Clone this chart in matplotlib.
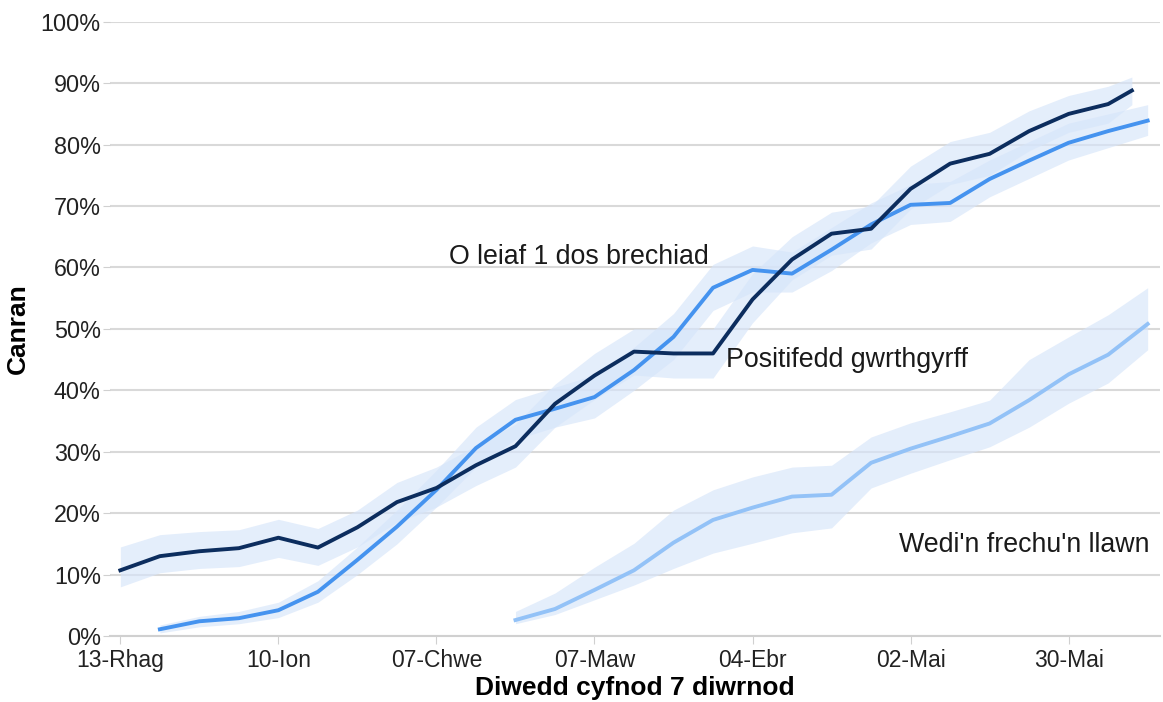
import numpy as np
import matplotlib.pyplot as plt
from matplotlib.ticker import PercentFormatter

plt.rcParams['font.family'] = ['Liberation Sans', 'DejaVu Sans']

# weeks since 13-Rhag (end of 7 day period)
tick_weeks = [0, 4, 8, 12, 16, 20, 24]
tick_labels = ['13-Rhag', '10-Ion', '07-Chwe', '07-Maw', '04-Ebr', '02-Mai', '30-Mai']

# antibody positivity (Positifedd gwrthgyrff)
ab_x = [0, 1, 2, 3, 4, 5, 6, 7, 8, 9, 10, 11, 12, 13, 14, 15, 16, 17, 18, 19,
        20, 21, 22, 23, 24, 25, 25.6]
ab_y = [10.7, 13.0, 13.8, 14.3, 16.0, 14.4, 17.7, 21.8, 24.1, 27.8, 30.9, 37.8,
        42.4, 46.3, 46.0, 46.0, 54.8, 61.3, 65.5, 66.3, 72.8, 76.9, 78.5, 82.2,
        85.0, 86.6, 88.8]
ab_lo = [8.0, 10.3, 11.0, 11.3, 12.8, 11.5, 14.5, 18.5, 21.0, 24.5, 27.5, 34.0,
         38.5, 42.5, 42.0, 42.0, 51.0, 58.0, 62.0, 63.0, 69.5, 73.5, 75.0, 79.0,
         82.0, 83.5, 86.5]
ab_hi = [14.5, 16.5, 17.0, 17.3, 19.0, 17.5, 20.5, 25.0, 27.5, 31.0, 34.5, 41.0,
         46.0, 50.0, 50.0, 50.0, 59.0, 65.0, 69.0, 70.0, 76.5, 80.5, 82.0, 85.5,
         88.0, 89.5, 91.0]

# at least one vaccine dose (O leiaf 1 dos brechiad)
dose_x = list(range(1, 27))
dose_y = [1.1, 2.4, 2.9, 4.2, 7.2, 12.4, 17.8, 23.8, 30.6, 35.2, 37.0, 38.9,
          43.3, 48.7, 56.7, 59.6, 59.0, 62.9, 67.0, 70.2, 70.5, 74.4, 77.4,
          80.3, 82.2, 83.9]
dose_lo = [0.5, 1.5, 2.0, 3.0, 5.5, 10.0, 15.0, 21.0, 27.5, 32.0, 34.0, 35.5,
           40.0, 45.0, 53.0, 56.0, 56.0, 59.5, 64.0, 67.0, 67.5, 71.5, 74.5,
           77.5, 79.5, 81.5]
dose_hi = [1.8, 3.2, 4.0, 5.5, 9.0, 14.5, 20.5, 27.0, 34.0, 38.5, 40.5, 42.5,
           47.0, 52.5, 60.5, 63.5, 62.5, 66.5, 70.5, 73.5, 74.0, 77.5, 80.5,
           83.5, 85.0, 86.5]

# fully vaccinated (Wedi'n frechu'n llawn)
full_x = list(range(10, 27))
full_y = [2.6, 4.4, 7.5, 10.7, 15.2, 18.9, 20.9, 22.7, 23.0, 28.2, 30.5, 32.5,
          34.6, 38.4, 42.6, 45.8, 50.8]
full_lo = [2.0, 3.5, 5.9, 8.3, 11.0, 13.5, 15.1, 16.8, 17.6, 24.1, 26.5, 28.7,
           30.8, 34.0, 37.9, 41.2, 46.6]
full_hi = [4.0, 7.0, 11.2, 15.1, 20.5, 23.8, 25.9, 27.5, 27.8, 32.4, 34.7,
           36.5, 38.4, 45.0, 48.7, 52.3, 56.7]

band = '#d6e5fa'
fig = plt.figure(figsize=(11.63, 7.02), dpi=100)
ax = fig.add_axes([0.095, 0.094, 0.902, 0.875])

ax.fill_between(full_x, full_lo, full_hi, color=band, alpha=0.65, lw=0)
ax.fill_between(dose_x, dose_lo, dose_hi, color=band, alpha=0.65, lw=0)
ax.fill_between(ab_x, ab_lo, ab_hi, color=band, alpha=0.65, lw=0)

ax.plot(full_x, full_y, color='#93c2f7', lw=2.8)
ax.plot(dose_x, dose_y, color='#4593ef', lw=2.8)
ax.plot(ab_x, ab_y, color='#0c2d5e', lw=2.8)

ax.text(8.33, 61.7, 'O leiaf 1 dos brechiad', fontsize=19.3, va='center', color='#1a1a1a')
ax.text(15.33, 45.0, 'Positifedd gwrthgyrff', fontsize=19.3, va='center', color='#1a1a1a')
ax.text(26.05, 14.8, "Wedi'n frechu'n llawn", fontsize=19.3, va='center', ha='right', color='#1a1a1a')

ax.set_xlim(-0.25, 26.3)
ax.set_ylim(0, 100)
ax.set_yticks(np.arange(0, 101, 10))
ax.yaxis.set_major_formatter(PercentFormatter(decimals=0))
ax.set_xticks(tick_weeks)
ax.set_xticklabels(tick_labels)

ax.grid(axis='y', color='#d9d9d9', lw=1.5)
ax.set_axisbelow(True)
for s in ['top', 'right', 'left']:
    ax.spines[s].set_visible(False)
ax.spines['bottom'].set_color('#d0d0d0')
ax.spines['bottom'].set_linewidth(1.5)
ax.tick_params(axis='y', length=5, color='#d0d0d0', labelsize=16.8, pad=2, labelcolor='#222222')
ax.tick_params(axis='x', length=6, color='#d0d0d0', labelsize=16.5, pad=3, labelcolor='#222222')

ax.set_xlabel('Diwedd cyfnod 7 diwrnod', fontsize=19, fontweight='bold', labelpad=3)
ax.set_ylabel('Canran', fontsize=19, fontweight='bold', labelpad=8)

plt.savefig('out.png', dpi=100)
